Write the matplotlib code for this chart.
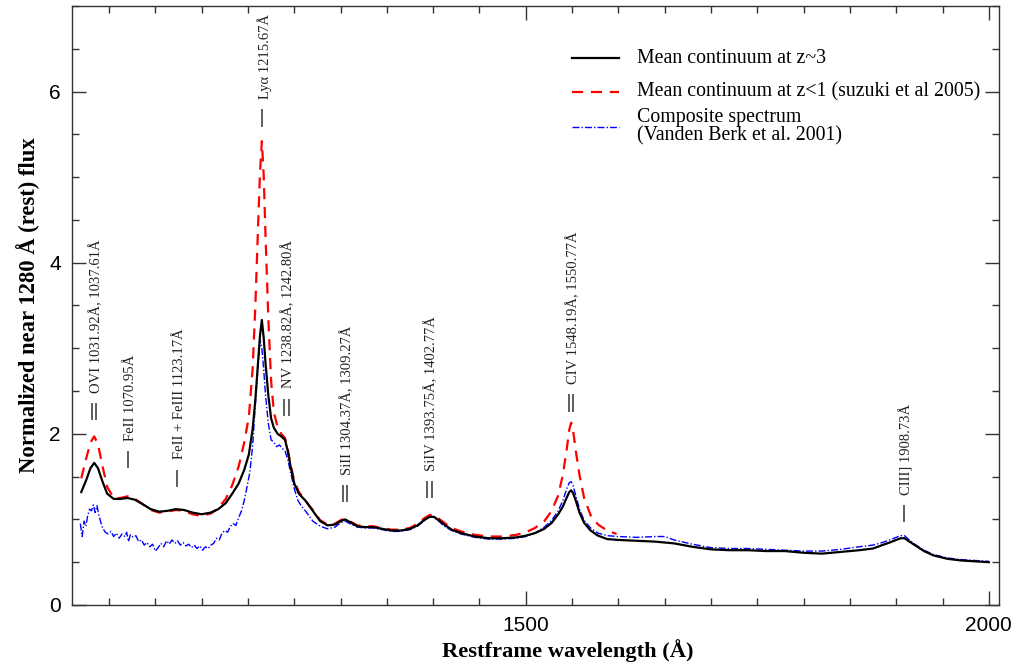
import matplotlib
matplotlib.use("Agg")
import matplotlib.pyplot as plt
from matplotlib.ticker import MultipleLocator

# mean continuum at z~3 (black)
black_wl = [1020, 1025, 1030, 1034, 1038, 1043, 1048, 1055, 1062, 1070, 1078, 1086, 1095, 1104, 1113,
            1122, 1131, 1140, 1150, 1160, 1168, 1176, 1183, 1190, 1196, 1201, 1205, 1208, 1211, 1213,
            1215, 1217, 1219, 1222, 1225, 1228, 1232, 1236, 1240, 1243, 1246, 1250, 1255, 1262, 1270,
            1278, 1286, 1294, 1300, 1305, 1310, 1318, 1326, 1335, 1345, 1355, 1365, 1375, 1383, 1390,
            1396, 1401, 1406, 1412, 1420, 1430, 1445, 1460, 1475, 1490, 1500, 1510, 1520, 1528, 1535,
            1540, 1544, 1547, 1549, 1551, 1554, 1558, 1563, 1570, 1578, 1588, 1600, 1620, 1640, 1660,
            1680, 1700, 1720, 1740, 1760, 1780, 1800, 1820, 1840, 1860, 1875, 1885, 1893, 1900, 1905,
            1909, 1913, 1920, 1930, 1940, 1955, 1970, 1985, 2000]
black_flux = [1.32, 1.45, 1.60, 1.66, 1.60, 1.44, 1.30, 1.24, 1.24, 1.25, 1.23, 1.18, 1.12, 1.09, 1.10,
              1.12, 1.11, 1.08, 1.06, 1.08, 1.12, 1.19, 1.30, 1.42, 1.58, 1.76, 2.05, 2.40, 2.85, 3.15,
              3.33, 3.12, 2.82, 2.45, 2.18, 2.07, 2.00, 1.97, 1.93, 1.80, 1.62, 1.42, 1.30, 1.22, 1.10,
              0.98, 0.93, 0.94, 0.98, 1.00, 0.97, 0.92, 0.91, 0.91, 0.89, 0.87, 0.87, 0.89, 0.93, 0.99,
              1.03, 1.03, 0.99, 0.94, 0.88, 0.84, 0.80, 0.78, 0.78, 0.79, 0.81, 0.84, 0.89, 0.96, 1.06,
              1.15, 1.25, 1.32, 1.34, 1.31, 1.22, 1.08, 0.96, 0.87, 0.81, 0.77, 0.76, 0.75, 0.74, 0.72,
              0.68, 0.65, 0.64, 0.64, 0.63, 0.63, 0.61, 0.60, 0.62, 0.64, 0.66, 0.70, 0.73, 0.76, 0.78,
              0.78, 0.75, 0.70, 0.63, 0.58, 0.54, 0.52, 0.51, 0.50]

# mean continuum at z<1, Suzuki et al 2005 (red)
red_wl = [1020, 1025, 1030, 1034, 1038, 1043, 1048, 1055, 1062, 1070, 1078, 1086, 1095, 1104, 1113,
          1122, 1131, 1140, 1150, 1160, 1168, 1176, 1183, 1190, 1196, 1201, 1205, 1208, 1211, 1213,
          1215, 1217, 1219, 1222, 1225, 1228, 1232, 1236, 1240, 1243, 1246, 1250, 1255, 1262, 1270,
          1278, 1286, 1294, 1300, 1305, 1310, 1318, 1326, 1335, 1345, 1355, 1365, 1375, 1383, 1390,
          1396, 1401, 1406, 1412, 1420, 1430, 1445, 1460, 1475, 1490, 1500, 1510, 1520, 1528, 1535,
          1540, 1544, 1547, 1549, 1551, 1554, 1558, 1563, 1570, 1578, 1588, 1598]
red_flux = [1.48, 1.70, 1.90, 1.97, 1.88, 1.62, 1.38, 1.25, 1.25, 1.27, 1.24, 1.18, 1.11, 1.08, 1.09,
            1.11, 1.10, 1.06, 1.04, 1.07, 1.13, 1.24, 1.40, 1.62, 1.90, 2.20, 2.75, 3.50, 4.45, 5.05,
            5.42, 5.02, 4.30, 3.35, 2.62, 2.25, 2.08, 2.00, 1.95, 1.82, 1.64, 1.45, 1.32, 1.22, 1.11,
            0.99, 0.94, 0.95, 0.99, 1.01, 0.98, 0.93, 0.92, 0.92, 0.90, 0.88, 0.88, 0.90, 0.95, 1.01,
            1.05, 1.05, 1.01, 0.96, 0.90, 0.86, 0.82, 0.80, 0.80, 0.82, 0.85, 0.90, 0.98, 1.10, 1.28,
            1.52, 1.80, 2.05, 2.13, 2.05, 1.80, 1.52, 1.25, 1.05, 0.94, 0.87, 0.83]

# composite spectrum, Vanden Berk et al. 2001 (blue)
blue_wl = [1019, 1021, 1023, 1025, 1027, 1029, 1031, 1033, 1035, 1037, 1039, 1041, 1043, 1046, 1049,
           1052, 1055, 1058, 1061, 1064, 1067, 1069, 1071, 1073, 1076, 1079, 1082, 1085, 1088, 1091,
           1094, 1097, 1100, 1103, 1106, 1109, 1112, 1115, 1118, 1121, 1124, 1127, 1130, 1133, 1136,
           1139, 1142, 1145, 1148, 1151, 1154, 1157, 1160, 1163, 1166, 1169, 1172, 1175, 1178, 1181,
           1184, 1187, 1190, 1193, 1196, 1199, 1202, 1205, 1208, 1211, 1213, 1215, 1217, 1219, 1222,
           1225, 1228, 1231, 1234, 1237, 1240, 1243, 1246, 1250, 1254, 1258, 1262, 1266, 1270, 1278,
           1286, 1294, 1300, 1305, 1310, 1318, 1326, 1335, 1345, 1355, 1365, 1375, 1383, 1390, 1396,
           1401, 1406, 1412, 1420, 1430, 1445, 1460, 1475, 1490, 1500, 1510, 1520, 1528, 1535, 1540,
           1544, 1547, 1549, 1551, 1554, 1558, 1563, 1570, 1578, 1588, 1600, 1620, 1640, 1650, 1660,
           1680, 1700, 1720, 1740, 1760, 1780, 1800, 1820, 1840, 1860, 1875, 1885, 1893, 1900, 1905,
           1909, 1913, 1920, 1930, 1940, 1955, 1970, 1985, 2000]
blue_flux = [0.95, 0.80, 0.98, 0.92, 1.05, 1.12, 1.10, 1.17, 1.08, 1.16, 1.05, 0.97, 0.90, 0.85, 0.83,
             0.86, 0.80, 0.84, 0.78, 0.83, 0.80, 0.85, 0.74, 0.82, 0.79, 0.81, 0.74, 0.76, 0.70, 0.73,
             0.68, 0.71, 0.63, 0.67, 0.72, 0.68, 0.75, 0.71, 0.76, 0.72, 0.75, 0.70, 0.73, 0.69, 0.71,
             0.67, 0.70, 0.66, 0.69, 0.64, 0.68, 0.66, 0.70, 0.72, 0.78, 0.76, 0.84, 0.87, 0.85, 0.92,
             0.95, 0.93, 1.02, 1.10, 1.22, 1.38, 1.55, 1.85, 2.35, 2.80, 3.10, 3.00, 2.75, 2.45, 2.12,
             1.93, 1.90, 1.85, 1.87, 1.83, 1.80, 1.70, 1.55, 1.36, 1.22, 1.15, 1.10, 1.04, 0.98, 0.92,
             0.89, 0.91, 0.96, 0.98, 0.95, 0.91, 0.90, 0.90, 0.88, 0.86, 0.86, 0.88, 0.92, 0.98, 1.03,
             1.02, 0.98, 0.92, 0.87, 0.83, 0.79, 0.77, 0.77, 0.78, 0.80, 0.84, 0.91, 0.99, 1.10, 1.22,
             1.35, 1.43, 1.44, 1.40, 1.28, 1.12, 0.99, 0.90, 0.84, 0.81, 0.80, 0.79, 0.80, 0.80, 0.76,
             0.71, 0.67, 0.66, 0.66, 0.65, 0.64, 0.63, 0.63, 0.65, 0.68, 0.70, 0.73, 0.76, 0.79, 0.81,
             0.81, 0.77, 0.71, 0.64, 0.59, 0.55, 0.53, 0.52, 0.51]

# emission line labels
line_names = ["OVI 1031.92Å, 1037.61Å", "FeII 1070.95Å", "FeII + FeIII 1123.17Å", "Lyα 1215.67Å",
              "NV 1238.82Å, 1242.80Å", "SiII 1304.37Å, 1309.27Å", "SiIV 1393.75Å, 1402.77Å",
              "CIV 1548.19Å, 1550.77Å", "CIII] 1908.73Å"]
line_wl = [1034.0, 1070.95, 1123.17, 1215.67, 1241.5, 1305.0, 1396.0, 1549.0, 1908.73]
line_double = [True, False, False, False, True, True, True, True, False]
line_y = [2.16, 1.60, 1.38, 5.59, 2.21, 1.20, 1.25, 2.26, 0.97]

serif = "Liberation Serif"
sans = "Liberation Sans"

fig = plt.figure(figsize=(10.17, 6.69), dpi=100)
ax = fig.add_axes([0.0708, 0.0957, 0.9115, 0.8954])

ax.plot(blue_wl, blue_flux, color="blue", lw=1.0, ls=(0, (5, 1.5, 1, 1.5)))
ax.plot(red_wl, red_flux, color="red", lw=1.6, ls=(0, (5, 3.5)))
ax.plot(black_wl, black_flux, color="black", lw=1.6)

for name, wl, dbl, y in zip(line_names, line_wl, line_double, line_y):
    if dbl:
        ax.vlines([wl - 2.3, wl + 2.3], y, y + 0.2, color="#333333", lw=1.1)
    else:
        ax.vlines(wl, y, y + 0.2, color="#333333", lw=1.1)
    ax.text(wl + 2.5, y + 0.32, name, rotation=90, ha="center", va="bottom",
            fontsize=10.5, family=serif, color="#222222")

# legend drawn by hand
leg_labels = ["Mean continuum at z~3", "Mean continuum at z<1 (suzuki et al 2005)",
              "Composite spectrum\n(Vanden Berk et al. 2001)"]
leg_styles = [dict(color="black", lw=1.6), dict(color="red", lw=1.6, ls=(0, (5, 3.5))),
              dict(color="blue", lw=1.0, ls=(0, (5, 1.5, 1, 1.5)))]
leg_y = [0.913, 0.856, 0.798]
for lab, st, yy in zip(leg_labels, leg_styles, leg_y):
    ax.plot([0.539, 0.590], [yy, yy], transform=ax.transAxes, **st)
    ax.text(0.610, yy, lab, transform=ax.transAxes, ha="left", va="center",
            fontsize=14.3, family=serif, linespacing=0.95)

ax.set_xlim(1010, 2011)
ax.set_ylim(0, 7)
ax.xaxis.set_major_locator(MultipleLocator(500))
ax.xaxis.set_minor_locator(MultipleLocator(50))
ax.yaxis.set_major_locator(MultipleLocator(2))
ax.yaxis.set_minor_locator(MultipleLocator(0.5))
ax.tick_params(which="both", direction="in", top=True, right=True, width=1.0, color="#333333")
ax.tick_params(which="major", length=10, labelsize=15, pad=8)
ax.tick_params(which="minor", length=5)
for lab in ax.get_xticklabels() + ax.get_yticklabels():
    lab.set_family(sans)
for sp in ax.spines.values():
    sp.set_color("#333333")
    sp.set_linewidth(1.0)

ax.set_xlabel("Restframe wavelength (Å)", family=serif, fontsize=16.2, fontweight="bold")
ax.set_ylabel("Normalized near 1280 Å (rest) flux", family=serif, fontsize=16.3, fontweight="bold")
ax.xaxis.set_label_coords(0.535, -0.057)
ax.yaxis.set_label_coords(-0.034, 0.5)

fig.savefig("out.png", dpi=100)
